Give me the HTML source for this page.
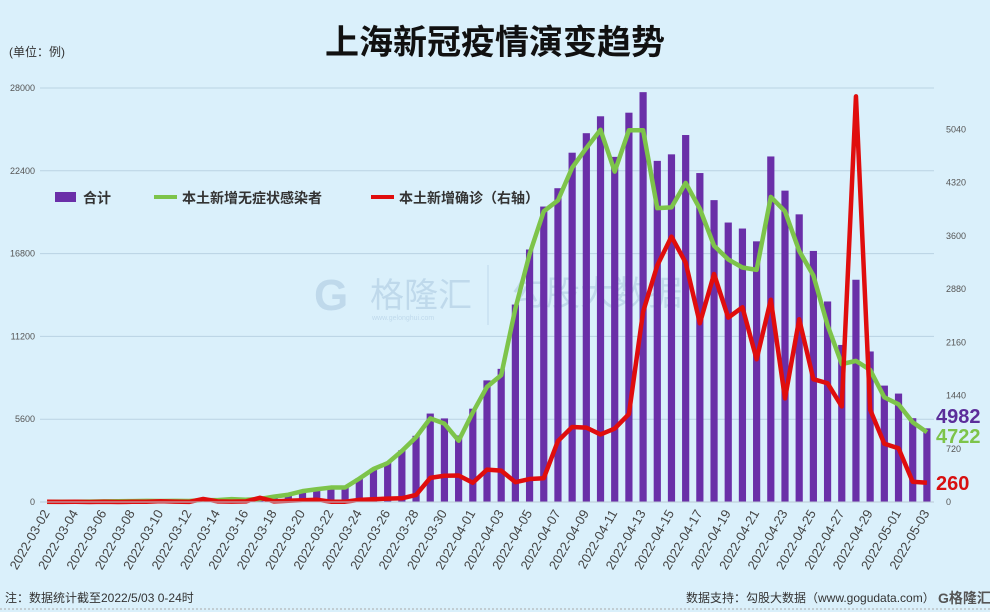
<!DOCTYPE html>
<html><head><meta charset="utf-8">
<style>
html,body{margin:0;padding:0;width:990px;height:612px;overflow:hidden;background:#daf0fb;}
svg{display:block;font-family:"Liberation Sans","Noto Sans CJK SC",sans-serif;}
</style></head>
<body>
<svg id="chart" width="990" height="612" viewBox="0 0 990 612">
<rect width="990" height="612" fill="#daf0fb"/>
<text x="495" y="54" text-anchor="middle" font-size="34" font-weight="bold" fill="#111">上海新冠疫情演变趋势</text>
<text x="9" y="56" font-size="12" fill="#333">(单位：例)</text>
<g opacity="0.35">
<text x="314" y="310" font-size="44" font-weight="bold" fill="#8fb0d0">G</text>
<text x="370" y="307" font-size="34" fill="#8fb0d0">格隆汇</text>
<text x="372" y="320" font-size="7" fill="#8fb0d0">www.gelonghui.com</text>
<line x1="488" y1="265" x2="488" y2="325" stroke="#8fb0d0" stroke-width="1"/>
<text x="512" y="305" font-size="34" fill="#8fb0d0">勾股大数据</text>
</g>
<g id="grid"></g><g id="bars"></g><g id="lines"></g><g id="axes"></g>
<g>
<rect x="55" y="192" width="21" height="10" fill="#6a2fa8"/>
<text x="83" y="203" font-size="14" font-weight="bold" fill="#333">合计</text>
<line x1="154" y1="197" x2="177" y2="197" stroke="#7dc44a" stroke-width="4"/>
<text x="182" y="203" font-size="14" font-weight="bold" fill="#333">本土新增无症状感染者</text>
<line x1="371" y1="197" x2="394" y2="197" stroke="#e00d0d" stroke-width="4"/>
<text x="399" y="203" font-size="14" font-weight="bold" fill="#333">本土新增确诊（右轴）</text>
</g>
<text x="936" y="423" font-size="20" font-weight="bold" fill="#5b2d9a">4982</text>
<text x="936" y="443" font-size="20" font-weight="bold" fill="#7dc44a">4722</text>
<text x="936" y="490" font-size="20" font-weight="bold" fill="#d81010">260</text>
<text x="5" y="602" font-size="12" fill="#333">注：数据统计截至2022/5/03 0-24时</text>
<text x="686" y="602" font-size="12" fill="#333">数据支持：勾股大数据（www.gogudata.com）</text>
<text x="938" y="603" font-size="14" font-weight="bold" fill="#555">G格隆汇</text>
<line x1="0" y1="609" x2="990" y2="609" stroke="#aaa" stroke-dasharray="2,2"/>
</svg>
<script>
const dates=[];
(function(){const d=new Date(Date.UTC(2022,2,2));for(let i=0;i<63;i++){const t=new Date(d.getTime()+i*86400000);dates.push(t.toISOString().slice(0,10));}})();
const confirmed=[3,2,3,0,3,0,3,4,11,5,1,41,9,5,8,57,8,17,24,31,4,4,29,38,45,50,96,326,355,358,260,438,425,268,311,322,824,1015,1006,914,994,1189,2573,3200,3590,3238,2417,3084,2494,2634,1931,2736,1401,2472,1661,1606,1292,5487,1249,788,727,274,260];
const asymptomatic=[5,14,16,28,45,51,62,76,64,78,64,128,130,197,150,203,366,492,734,865,977,979,1580,2231,2631,3450,4381,5656,5298,4144,6051,7788,8581,13086,16766,19660,20398,22609,23937,25173,22348,25141,25146,19872,19923,21582,19831,17332,16407,15861,15698,20634,19657,16983,15319,11956,9330,9545,8932,7084,6606,5395,4722];
const total=confirmed.map((c,i)=>c+asymptomatic[i]);
const leftTicks=[0,5600,11200,16800,22400,28000];
const rightTicks=[0,720,1440,2160,2880,3600,4320,5040];
const NS="http://www.w3.org/2000/svg";
const X0=40,X1=934,Y0=502,Y1=88,LMAX=28000,RMAX=5600;
const bw=(X1-X0)/dates.length;
const xs=i=>X0+bw*(i+0.5);
const yl=v=>Y0-(v/LMAX)*(Y0-Y1);
const yr=v=>Y0-(v/RMAX)*(Y0-Y1);
function mk(tag,attrs,parent){const e=document.createElementNS(NS,tag);for(const k in attrs)e.setAttribute(k,attrs[k]);parent.appendChild(e);return e;}
const grid=document.getElementById('grid'),bars=document.getElementById('bars'),lines=document.getElementById('lines'),axes=document.getElementById('axes');
leftTicks.forEach(v=>{
 if(v>0){const g=mk('line',{x1:X0,x2:X1,y1:yl(v),y2:yl(v),stroke:'#b9d3e3','stroke-width':1},grid);
 
 }
 const t=mk('text',{x:35,y:yl(v)+3,'text-anchor':'end','font-size':9,fill:'#555'},axes);t.textContent=v;
 
 
});
rightTicks.forEach(v=>{
 const t=mk('text',{x:946,y:yr(v)+3,'font-size':9,fill:'#555'},axes);t.textContent=v;
 
 
});
const ax=mk('line',{x1:X0,x2:X1,y1:Y0,y2:Y0,stroke:'#b9c9d6'},axes);


total.forEach((v,i)=>{
 const r=mk('rect',{x:xs(i)-3.6,y:yl(v),width:7.2,height:Y0-yl(v),fill:'#6a2fa8'},bars);
 
 
});
dates.forEach((d,i)=>{
 if(i%2===0){const x=xs(i)+3,y=513;
 const t=mk('text',{x:x,y:y,'text-anchor':'end','font-size':13,fill:'#444',transform:'rotate(-60 '+x+' '+y+')'},axes);t.textContent=d;
 
 }
});
const pg=mk('polyline',{points:asymptomatic.map((v,i)=>xs(i)+','+yl(v)).join(' '),fill:'none',stroke:'#7dc44a','stroke-width':4.5,'stroke-linejoin':'round'},lines);


const pr=mk('polyline',{points:confirmed.map((v,i)=>xs(i)+','+yr(v)).join(' '),fill:'none',stroke:'#e00d0d','stroke-width':4.5,'stroke-linejoin':'round'},lines);


</script>
</body></html>
